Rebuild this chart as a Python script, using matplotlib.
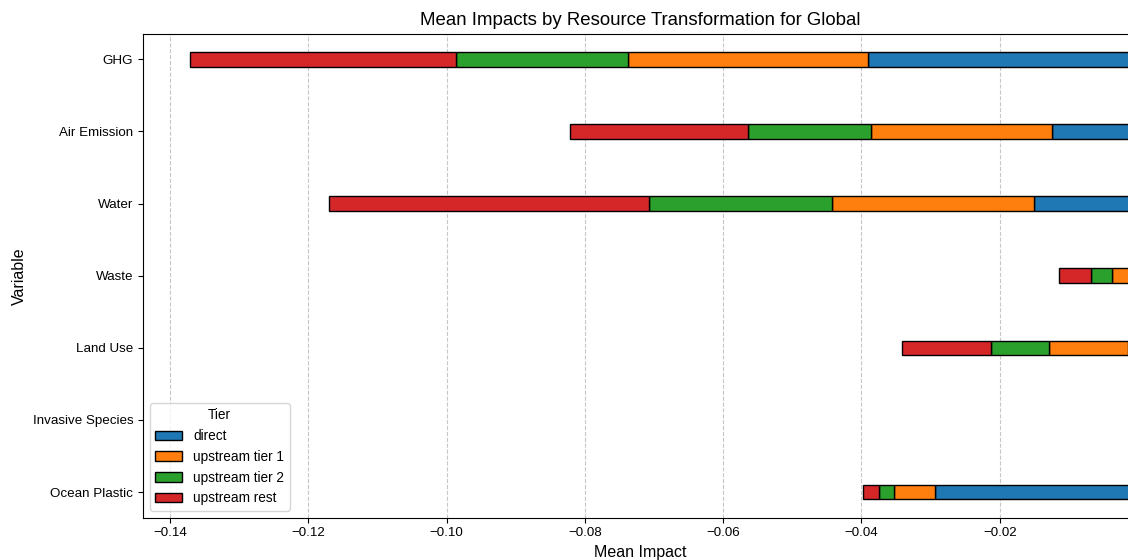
import numpy as np
import matplotlib.pyplot as plt

plt.rcParams['font.family'] = ['Liberation Sans', 'DejaVu Sans']

variables = ['GHG', 'Air Emission', 'Water', 'Waste', 'Land Use',
             'Invasive Species', 'Ocean Plastic']
tiers = ['direct', 'upstream tier 1', 'upstream tier 2', 'upstream rest']
tier_colors = ['#1f77b4', '#ff7f0e', '#2ca02c', '#d62728']

# mean impact per tier
direct = [-0.0391, -0.0125, -0.0150, -0.00135, -0.0014, 0.0, -0.0294]
tier1 = [-0.0347, -0.0261, -0.0292, -0.0024, -0.0114, 0.0, -0.0059]
tier2 = [-0.0249, -0.0178, -0.0265, -0.0031, -0.0085, 0.0, -0.0021]
rest = [-0.0384, -0.0257, -0.0463, -0.0046, -0.0128, 0.0, -0.0024]

xticks = [-0.14, -0.12, -0.10, -0.08, -0.06, -0.04, -0.02]

series = [direct, tier1, tier2, rest]

fig = plt.figure(figsize=(11.28, 5.6), dpi=100)
# original picture is cut on the right, so the axes runs past the edge
ax = fig.add_axes([143/1128, 1 - 517.7/560, 995/1128, 484/560])

y = np.arange(len(variables))
left = np.zeros(len(variables))
for vals, name, col in zip(series, tiers, tier_colors):
    vals = np.array(vals)
    ax.barh(y, vals, left=left, height=0.2, color=col, edgecolor='black',
            linewidth=1, label=name)
    left = left + vals

ax.set_yticks(y)
ax.set_yticklabels(variables)
ax.set_ylim(6.355, -0.355)
ax.set_xlim(-0.1439, 0)
ax.set_xticks(xticks)
ax.grid(axis='x', linestyle='--', color='#b0b0b0', alpha=0.7)
ax.set_axisbelow(True)
ax.tick_params(labelsize=9.6)

ax.set_title('Mean Impacts by Resource Transformation for Global', fontsize=13.4)
ax.set_xlabel('Mean Impact', fontsize=11.5)
ax.set_ylabel('Variable', fontsize=11.5)
ax.legend(title='Tier', loc='lower left', fontsize=9.8, title_fontsize=9.8,
          labelspacing=0.5)

fig.savefig('out.png', dpi=100)
